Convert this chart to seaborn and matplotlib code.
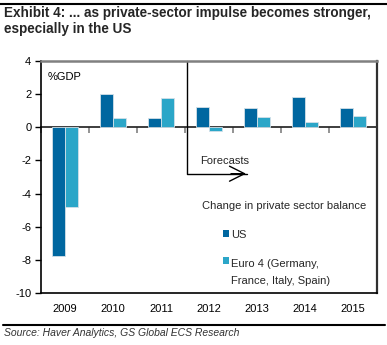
import matplotlib
matplotlib.use("Agg")
import matplotlib.pyplot as plt
from matplotlib.lines import Line2D
from matplotlib.patches import Patch, Rectangle
from matplotlib.legend_handler import HandlerPatch
import seaborn as sns
import pandas as pd

years = ["2009", "2010", "2011", "2012", "2013", "2014", "2015"]
us = [-7.8, 2.0, 0.55, 1.25, 1.2, 1.85, 1.2]
euro4 = [-4.8, 0.55, 1.8, -0.2, 0.6, 0.3, 0.7]
series_names = ["US", "Euro 4 (Germany,\nFrance, Italy, Spain)"]
colors = ["#0067A0", "#2BA6C8"]

df = pd.DataFrame({
    "year": years * 2,
    "value": us + euro4,
    "series": [series_names[0]] * len(years) + [series_names[1]] * len(years),
})

sns.set_theme(style="white")
plt.rcParams["font.family"] = ["Liberation Sans", "DejaVu Sans"]
plt.rcParams["axes.unicode_minus"] = False

W, H = 387, 345
fig = plt.figure(figsize=(W / 100, H / 100), dpi=100)
ax = fig.add_axes([41 / W, 1 - 292.7 / H, (377 - 41) / W, (292.7 - 61.3) / H])

sns.barplot(data=df, x="year", y="value", hue="series", order=years,
            hue_order=series_names, palette=colors, saturation=1, width=0.56,
            edgecolor="#d3e0e8", linewidth=0.6, ax=ax, legend=False)

ax.set_xlim(-0.5, len(years) - 0.5)
ax.set_ylim(-10, 4)
ax.set_yticks(range(-10, 5, 2))
ax.set_xlabel("")
ax.set_ylabel("")
ax.tick_params(axis="y", direction="out", length=4, width=1, color="black",
               labelsize=8, pad=3, left=True)
ax.tick_params(axis="x", length=0, labelsize=8, pad=8)
for lab in ax.get_xticklabels() + ax.get_yticklabels():
    lab.set_color("black")

for side, col, lw in [("left", "black", 1.2), ("bottom", "black", 1.2),
                      ("top", "#808080", 1.8), ("right", "#303030", 1.6)]:
    ax.spines[side].set_visible(True)
    ax.spines[side].set_color(col)
    ax.spines[side].set_linewidth(lw)

# zero line with category boundary ticks hanging below it
zero = ax.secondary_xaxis(10 / 14)
zero.spines["bottom"].set_color("#808080")
zero.spines["bottom"].set_linewidth(1.8)
zero.set_xticks([i - 0.5 for i in range(len(years) + 1)])
zero.set_xticklabels([])
zero.tick_params(axis="x", direction="in", length=4, width=1.2, color="#808080")

ax.text(0.02, 0.955, "%GDP", transform=ax.transAxes, fontsize=8,
        ha="left", va="top", color="black")

# forecast marker
ax.plot([2.54, 2.54, 3.8], [4, -2.8, -2.8], color="black", lw=1, clip_on=False)
ax.annotate("", xy=(3.83, -2.8), xytext=(3.4, -2.8),
            arrowprops=dict(arrowstyle="->,head_length=0.6,head_width=0.3",
                            color="black", lw=1, mutation_scale=18))
ax.text(2.82, -2.05, "Forecasts", fontsize=8, ha="left", va="center")

# legend
ax.text(2.85, -4.75, "Change in private sector balance", fontsize=8,
        ha="left", va="center")

LABEL_LINESPACING = 1.86


def top_line_key(legend, orig_handle, xdescent, ydescent, width, height, fontsize):
    # keep the key square beside the first line of a wrapped label
    lines = getattr(orig_handle, "_label_lines", 1)
    shift = (lines - 1) * 8.6
    return Rectangle((-xdescent, -ydescent + shift), width, height)


handles = []
for c, name in zip(colors, series_names):
    p = Patch(facecolor=c, edgecolor="none")
    p._label_lines = name.count("\n") + 1
    handles.append(p)

leg = ax.legend(handles, series_names, loc="upper left",
                bbox_to_anchor=(0.542, 0.273), frameon=False, fontsize=8,
                handlelength=0.55, handleheight=0.55, handletextpad=0.15,
                labelspacing=1.75, borderaxespad=0, borderpad=0,
                handler_map={Patch: HandlerPatch(patch_func=top_line_key)})
for t in leg.get_texts():
    t.set_linespacing(LABEL_LINESPACING)

fig.text(4 / W, 1 - 6 / H,
         "Exhibit 4: ... as private-sector impulse becomes stronger,\nespecially in the US",
         fontsize=9.75, fontweight="bold", ha="left", va="top", linespacing=1.15)
fig.add_artist(Line2D([0, 1], [1 - 4 / H, 1 - 4 / H], color="black", lw=1.5))
fig.add_artist(Line2D([3 / W, 385 / W], [1 - 324.5 / H, 1 - 324.5 / H],
                      color="black", lw=1.5))
fig.text(4 / W, 1 - 333 / H, "Source: Haver Analytics, GS Global ECS Research",
         fontsize=7.5, style="italic", color="#333333", ha="left", va="center")

fig.savefig("out.png", dpi=100, facecolor="white")
